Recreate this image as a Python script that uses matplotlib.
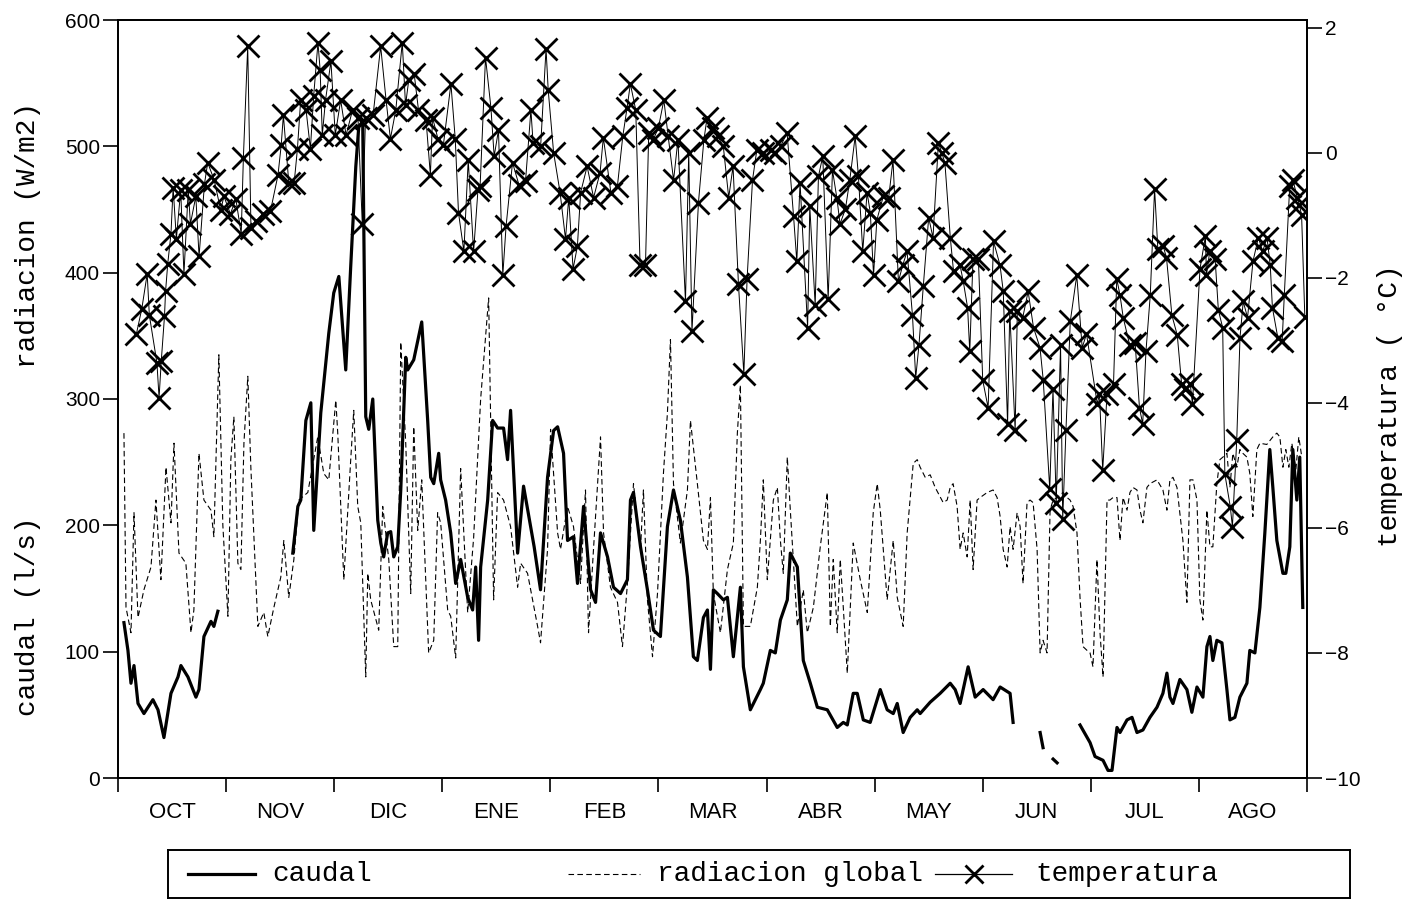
import numpy as np
import matplotlib.pyplot as plt

# meses del año hidrologico (oct - ago)
meses = ['OCT', 'NOV', 'DIC', 'ENE', 'FEB', 'MAR', 'ABR', 'MAY', 'JUN', 'JUL', 'AGO']

# caudal (l/s), x en meses desde el 1 de octubre
caudal_mes = [0.055, 0.092, 0.120, 0.148, 0.185, 0.240, 0.323, 0.370, 0.425, 0.490,
              0.555, 0.582, 0.647, 0.721, 0.749, 0.795, 0.860, 0.887, 0.924, 1.20,
              1.617, 1.664, 1.691, 1.738, 1.784, 1.811, 1.876, 1.950, 1.996, 2.043,
              2.107, 2.153, 2.200, 2.227, 2.264, 2.292, 2.320, 2.357, 2.403, 2.431,
              2.458, 2.495, 2.523, 2.551, 2.588, 2.616, 2.662, 2.680, 2.736, 2.810,
              2.865, 2.893, 2.921, 2.967, 2.985, 3.031, 3.078, 3.124, 3.170, 3.235,
              3.281, 3.309, 3.336, 3.355, 3.420, 3.466, 3.512, 3.567, 3.604, 3.632,
              3.697, 3.752, 3.850, 3.909, 3.974, 4.030, 4.067, 4.122, 4.159, 4.214,
              4.251, 4.307, 4.372, 4.418, 4.464, 4.529, 4.584, 4.649, 4.713, 4.741,
              4.769, 4.834, 4.898, 4.954, 5.018, 5.083, 5.139, 5.203, 5.268, 5.323,
              5.360, 5.416, 5.453, 5.481, 5.508, 5.545, 5.601, 5.638, 5.693, 5.730,
              5.758, 5.786, 5.850, 5.943, 5.970, 6.035, 6.081, 6.128, 6.192, 6.220,
              6.285, 6.340, 6.405, 6.470, 6.562, 6.654, 6.710, 6.747, 6.802, 6.839,
              6.895, 6.959, 7.052, 7.116, 7.172, 7.209, 7.264, 7.329, 7.394, 7.421,
              7.514, 7.606, 7.699, 7.745, 7.791, 7.865, 7.930, 8.004, 8.096, 8.161,
              8.253, 8.281, 8.40, 8.531, 8.558, 8.60, 8.651, 8.688, 8.80, 8.900,
              8.993, 9.039, 9.113, 9.159, 9.196, 9.242, 9.270, 9.335, 9.381, 9.427,
              9.482, 9.547, 9.612, 9.667, 9.704, 9.732, 9.760, 9.824, 9.889, 9.935,
              9.982, 10.037, 10.074, 10.102, 10.129, 10.166, 10.213, 10.259, 10.287, 10.333,
              10.379, 10.444, 10.471, 10.518, 10.564, 10.610, 10.656, 10.684, 10.721, 10.777,
              10.804, 10.841, 10.869, 10.906, 10.933, 10.961]
caudal_ls = [123, 101, 75, 89, 59, 51, 62, 54, 32, 67,
             80, 89, 80, 64, 70, 112, 124, 120, 132, np.nan,
             178, 215, 220, 283, 297, 196, 289, 352, 384, 397,
             323, 405, 484, 515, 520, 286, 276, 300, 204, 186,
             175, 194, 195, 175, 183, 228, 333, 323, 331, 361,
             283, 238, 233, 257, 236, 220, 194, 154, 173, 143,
             133, 167, 109, 167, 220, 283, 277, 277, 252, 291,
             178, 231, 183, 149, 238, 275, 278, 257, 188, 191,
             154, 215, 149, 139, 194, 175, 151, 146, 157, 220,
             226, 183, 149, 117, 112, 199, 228, 204, 159, 96,
             93, 127, 133, 86, 149, 146, 141, 143, 96, 127,
             151, 88, 54, 70, 75, 101, 99, 125, 141, 178,
             167, 93, 75, 56, 54, 40, 44, 42, 67, 67,
             46, 44, 70, 54, 51, 59, 36, 48, 54, 51,
             60, 67, 75, 70, 59, 88, 64, 70, 62, 72,
             67, 44, np.nan, 36, 24, np.nan, 15, 12, np.nan, 42,
             28, 17, 14, 6, 6, 40, 36, 46, 48, 36,
             38, 48, 56, 67, 83, 64, 59, 78, 70, 52,
             72, 64, 104, 112, 93, 109, 107, 70, 46, 48,
             64, 75, 101, 99, 135, 194, 260, 230, 188, 162,
             162, 183, 260, 220, 254, 135]

# radiacion global (W/m2)
rad_mes = [0.055, 0.074, 0.120, 0.148, 0.185, 0.240, 0.305, 0.351, 0.397, 0.444,
           0.490, 0.518, 0.564, 0.628, 0.675, 0.702, 0.749, 0.795, 0.860, 0.887,
           0.933, 0.970, 1.017, 1.044, 1.072, 1.109, 1.137, 1.165, 1.201, 1.229,
           1.294, 1.349, 1.386, 1.442, 1.506, 1.534, 1.580, 1.627, 1.673, 1.756,
           1.848, 1.904, 1.950, 2.015, 2.033, 2.089, 2.153, 2.181, 2.218, 2.246,
           2.292, 2.311, 2.338, 2.412, 2.449, 2.505, 2.551, 2.588, 2.616, 2.662,
           2.708, 2.736, 2.773, 2.810, 2.874, 2.921, 2.957, 2.985, 3.050, 3.078,
           3.124, 3.170, 3.198, 3.235, 3.290, 3.355, 3.429, 3.475, 3.512, 3.567,
           3.632, 3.697, 3.725, 3.789, 3.882, 3.909, 3.974, 4.002, 4.067, 4.094,
           4.159, 4.214, 4.279, 4.325, 4.353, 4.399, 4.464, 4.492, 4.556, 4.621,
           4.667, 4.713, 4.769, 4.834, 4.861, 4.898, 4.945, 4.991, 5.046, 5.083,
           5.111, 5.139, 5.203, 5.268, 5.296, 5.360, 5.416, 5.453, 5.481, 5.508,
           5.573, 5.638, 5.693, 5.730, 5.758, 5.786, 5.850, 5.915, 5.943, 5.970,
           6.007, 6.063, 6.100, 6.128, 6.155, 6.192, 6.220, 6.285, 6.340, 6.377,
           6.433, 6.497, 6.562, 6.590, 6.617, 6.654, 6.682, 6.710, 6.747, 6.802,
           6.867, 6.932, 6.987, 7.024, 7.052, 7.116, 7.172, 7.209, 7.264, 7.301,
           7.357, 7.394, 7.421, 7.468, 7.514, 7.560, 7.634, 7.671, 7.699, 7.726,
           7.763, 7.791, 7.819, 7.856, 7.884, 7.911, 7.948, 7.976, 8.041, 8.096,
           8.133, 8.161, 8.189, 8.226, 8.253, 8.281, 8.318, 8.346, 8.373, 8.410,
           8.438, 8.466, 8.503, 8.531, 8.558, 8.595, 8.623, 8.651, 8.688, 8.743,
           8.780, 8.808, 8.836, 8.872, 8.900, 8.928, 8.965, 8.993, 9.020, 9.057,
           9.085, 9.113, 9.150, 9.177, 9.205, 9.242, 9.270, 9.298, 9.335, 9.362,
           9.390, 9.427, 9.455, 9.482, 9.519, 9.547, 9.612, 9.667, 9.704, 9.732,
           9.760, 9.797, 9.852, 9.889, 9.917, 9.945, 9.982, 10.009, 10.037, 10.074,
           10.102, 10.129, 10.166, 10.194, 10.222, 10.259, 10.287, 10.314, 10.351, 10.379,
           10.407, 10.444, 10.471, 10.499, 10.536, 10.564, 10.628, 10.684, 10.721, 10.749,
           10.777, 10.804, 10.832, 10.860, 10.897, 10.924, 10.952]
rad_wm2 = [273, 135, 115, 210, 127, 149, 167, 220, 157, 246,
           202, 265, 178, 170, 115, 133, 257, 220, 212, 191,
           335, 200, 128, 252, 286, 170, 165, 265, 318, 246,
           120, 131, 112, 135, 159, 188, 143, 173, 220, 226,
           270, 241, 236, 299, 273, 157, 252, 291, 215, 202,
           80, 162, 141, 117, 215, 173, 104, 104, 345, 265,
           146, 278, 196, 236, 99, 109, 210, 202, 133, 128,
           95, 245, 196, 131, 190, 300, 380, 141, 226, 220,
           199, 151, 170, 162, 120, 107, 181, 276, 194, 181,
           215, 199, 154, 228, 115, 181, 270, 194, 151, 139,
           104, 154, 233, 181, 228, 141, 96, 146, 241, 289,
           347, 233, 186, 228, 283, 233, 188, 181, 222, 146,
           115, 165, 186, 273, 311, 120, 120, 151, 188, 236,
           157, 220, 230, 188, 162, 254, 212, 120, 149, 115,
           135, 183, 226, 120, 173, 115, 173, 135, 83, 186,
           157, 131, 210, 233, 212, 141, 188, 143, 120, 194,
           249, 252, 246, 238, 240, 230, 218, 220, 230, 233,
           215, 181, 194, 175, 220, 165, 220, 222, 226, 228,
           222, 207, 181, 167, 199, 181, 210, 199, 154, 218,
           220, 218, 181, 99, 109, 99, 212, 220, 222, 226,
           222, 220, 215, 194, 143, 104, 101, 99, 88, 173,
           115, 80, 220, 220, 222, 222, 188, 222, 212, 226,
           230, 228, 212, 202, 230, 233, 236, 228, 212, 236,
           238, 230, 188, 139, 236, 236, 220, 141, 125, 212,
           183, 183, 233, 252, 254, 257, 230, 257, 246, 260,
           257, 254, 241, 207, 260, 265, 264, 270, 273, 270,
           246, 260, 246, 265, 244, 270, 254]

# temperatura (grados C)
temp_mes = [0.17, 0.22, 0.27, 0.29, 0.36, 0.38, 0.40, 0.43, 0.44, 0.46,
            0.49, 0.51, 0.54, 0.58, 0.61, 0.65, 0.67, 0.72, 0.75, 0.80,
            0.83, 0.89, 0.95, 0.98, 1.04, 1.09, 1.14, 1.16, 1.20, 1.23,
            1.28, 1.34, 1.41, 1.48, 1.51, 1.53, 1.58, 1.63, 1.66, 1.69,
            1.74, 1.78, 1.81, 1.85, 1.87, 1.89, 1.92, 1.97, 2.01, 2.06,
            2.11, 2.17, 2.22, 2.26, 2.29, 2.36, 2.43, 2.48, 2.52, 2.57,
            2.63, 2.66, 2.69, 2.74, 2.78, 2.85, 2.89, 2.91, 2.96, 3.01,
            3.08, 3.12, 3.15, 3.20, 3.24, 3.29, 3.33, 3.35, 3.40, 3.45,
            3.48, 3.52, 3.56, 3.59, 3.65, 3.71, 3.77, 3.82, 3.84, 3.91,
            3.96, 3.98, 4.03, 4.09, 4.14, 4.17, 4.21, 4.25, 4.28, 4.34,
            4.40, 4.46, 4.49, 4.56, 4.62, 4.67, 4.71, 4.74, 4.79, 4.83,
            4.88, 4.91, 4.95, 5.00, 5.05, 5.09, 5.14, 5.18, 5.25, 5.28,
            5.31, 5.37, 5.42, 5.45, 5.50, 5.55, 5.60, 5.65, 5.69, 5.74,
            5.79, 5.82, 5.87, 5.91, 5.97, 6.04, 6.08, 6.13, 6.19, 6.25,
            6.28, 6.31, 6.38, 6.40, 6.45, 6.48, 6.52, 6.57, 6.61, 6.65,
            6.68, 6.73, 6.77, 6.82, 6.85, 6.89, 6.93, 6.96, 6.99, 7.02,
            7.08, 7.13, 7.17, 7.22, 7.26, 7.30, 7.35, 7.38, 7.41, 7.45,
            7.50, 7.54, 7.59, 7.62, 7.65, 7.70, 7.73, 7.79, 7.82, 7.86,
            7.88, 7.91, 7.96, 8.00, 8.05, 8.10, 8.16, 8.19, 8.23, 8.25,
            8.30, 8.32, 8.37, 8.42, 8.47, 8.53, 8.56, 8.62, 8.65, 8.68,
            8.72, 8.74, 8.77, 8.81, 8.87, 8.92, 8.96, 9.06, 9.08, 9.11,
            9.15, 9.21, 9.24, 9.27, 9.30, 9.36, 9.41, 9.45, 9.48, 9.51,
            9.55, 9.59, 9.62, 9.67, 9.70, 9.75, 9.80, 9.84, 9.87, 9.92,
            9.94, 10.01, 10.06, 10.07, 10.10, 10.15, 10.18, 10.22, 10.24, 10.29,
            10.31, 10.35, 10.38, 10.41, 10.45, 10.50, 10.55, 10.59, 10.63, 10.66,
            10.68, 10.73, 10.77, 10.79, 10.84, 10.87, 10.91, 10.93, 10.95, 10.98]
temp_c = [-2.90, -2.50, -1.94, -2.60, -3.36, -3.92, -3.34, -2.62, -2.22, -1.78,
          -1.30, -0.56, -1.38, -0.60, -1.94, -0.60, -1.14, -0.70, -1.66, -0.50,
          -0.16, -0.44, -0.92, -0.70, -0.98, -0.74, -1.30, -0.08, 1.70, -1.20,
          -1.10, -0.98, -0.94, -0.36, 0.12, 0.60, -0.48, -0.48, 0.06, 0.84,
          0.68, 0.06, 0.90, 1.76, 1.32, 0.28, 0.84, 1.46, 0.28, 0.84,
          0.28, 0.68, 0.56, -1.14, 0.56, 0.60, 1.70, 0.84, 0.22, 0.68,
          1.76, 0.76, 1.16, 1.26, 0.68, 0.52, -0.36, 0.56, 0.22, 0.12,
          1.10, 0.22, -0.96, -1.58, -0.12, -1.58, -0.60, -0.54, 1.52, 0.72,
          -0.06, 0.36, -1.96, -1.18, -0.16, -0.52, -0.46, 0.68, 0.16, 0.10,
          1.66, 1.00, 0.00, -0.64, -1.38, -0.72, -1.86, -1.50, -0.64, -0.22,
          -0.72, -0.32, 0.24, -0.64, -0.54, 0.26, 0.72, 1.10, 0.68, -1.80,
          -1.80, 0.32, 0.20, 0.40, 0.84, 0.26, -0.44, 0.20, -2.38, 0.00,
          -2.86, -0.80, 0.20, 0.56, 0.40, 0.26, 0.10, -0.72, -0.22, -2.10,
          -3.54, -2.02, -0.44, 0.04, 0.00, 0.04, 0.00, 0.10, 0.32, -1.02,
          -1.74, -0.48, -2.80, -0.86, -2.44, -0.38, -0.06, -2.34, -0.28, -0.72,
          -1.14, -0.90, -0.44, 0.26, -0.38, -1.58, -0.64, -0.96, -1.96, -1.08,
          -0.70, -0.72, -0.12, -2.06, -1.80, -1.58, -2.60, -3.60, -3.08, -2.14,
          -1.04, -1.36, 0.16, 0.00, -0.16, -1.36, -1.90, -1.80, -2.06, -2.48,
          -3.18, -1.70, -1.70, -3.64, -4.08, -1.42, -1.80, -2.22, -4.34, -2.54,
          -4.44, -2.54, -2.64, -2.22, -2.80, -3.12, -3.64, -5.38, -3.78, -5.60,
          -3.08, -5.86, -4.44, -2.70, -1.96, -3.12, -2.90, -4.02, -3.86, -5.08,
          -3.86, -3.70, -2.02, -2.28, -2.64, -3.08, -3.04, -4.08, -4.34, -3.18,
          -2.28, -0.58, -1.54, -1.50, -1.68, -2.60, -2.92, -3.70, -3.78, -3.70,
          -4.02, -1.86, -1.34, -1.96, -1.58, -1.70, -2.52, -2.80, -5.14, -5.66,
          -5.98, -4.60, -2.96, -2.38, -2.64, -1.74, -1.36, -1.58, -1.36, -1.80,
          -2.48, -2.96, -3.02, -2.28, -0.54, -0.44, -0.72, -0.84, -1.00, -2.63]

leyenda = ['caudal', 'radiacion global', 'temperatura']

mono = 'Liberation Mono'
sans = 'Liberation Sans'
W, H = 1405, 909

fig = plt.figure(figsize=(W / 100, H / 100), dpi=100)
ax = fig.add_axes([118 / W, 131 / H, 1189 / W, 758 / H])
ax2 = ax.twinx()

estilo_rad = dict(color='black', lw=0.8, ls=(0, (5, 3)))
estilo_cau = dict(color='black', lw=2.3)
estilo_tem = dict(color='black', lw=0.7, marker='x', ms=16, mew=2.0)

ax.plot(rad_mes, rad_wm2, **estilo_rad)
ax.plot(caudal_mes, caudal_ls, **estilo_cau)
ax2.plot(temp_mes, temp_c, **estilo_tem)

ax.set_xlim(0, 11)
ax.set_ylim(0, 600)
ax2.set_ylim(-9.9, 2.12)

ax.set_yticks(np.arange(0, 601, 100))
ax2.set_yticks(np.arange(-10, 3, 2))
ax.set_xticks(np.arange(0, 12))
ax.set_xticklabels([])
ax.set_xticks(np.arange(len(meses)) + 0.5, minor=True)
ax.set_xticklabels(meses, minor=True, fontfamily=sans, fontsize=16)
ax.tick_params(axis='x', which='minor', length=0, pad=17)
ax.tick_params(axis='x', which='major', length=10, width=1.2, direction='out')
ax.tick_params(axis='y', length=11, width=1.2, direction='out', pad=2)
ax2.tick_params(axis='y', length=11, width=1.2, direction='out', pad=2)
for lab in ax.get_yticklabels() + ax2.get_yticklabels():
    lab.set_fontfamily(sans)
    lab.set_fontsize(15)

for a in (ax, ax2):
    for s in a.spines.values():
        s.set_linewidth(1.3)

fig.text(28 / W, 1 - 235 / H, 'radiacion (W/m2)', rotation=90, ha='center',
         va='center', fontfamily=mono, fontsize=20)
fig.text(28 / W, 1 - 616 / H, 'caudal (l/s)', rotation=90, ha='center',
         va='center', fontfamily=mono, fontsize=20)
fig.text(1390 / W, 1 - 406 / H, 'temperatura ( °C)', rotation=90, ha='center',
         va='center', fontfamily=mono, fontsize=20)

# leyenda dibujada a mano en su propio recuadro (px dentro del recuadro)
lax = fig.add_axes([168 / W, 11 / H, 1182 / W, 48 / H])
lax.set_xlim(0, 1182)
lax.set_ylim(0, 48)
lax.set_xticks([])
lax.set_yticks([])
for s in lax.spines.values():
    s.set_linewidth(1.4)
muestras = [(20, 87, estilo_cau), (400, 472, estilo_rad), (767, 844, estilo_tem)]
textos_x = [104, 489, 867]
for (x0, x1, est), tx, nombre in zip(muestras, textos_x, leyenda):
    e = dict(est)
    if 'marker' in e:
        lax.plot([x0, x1], [24, 24], color='black', lw=0.9)
        lax.plot([(x0 + x1) / 2], [24], ls='none', marker='x', ms=13, mew=2.0, color='black')
    else:
        lax.plot([x0, x1], [24, 24], **e)
    lax.text(tx, 24, nombre, ha='left', va='center', fontfamily=mono, fontsize=20)

fig.savefig('out.png', dpi=100)
